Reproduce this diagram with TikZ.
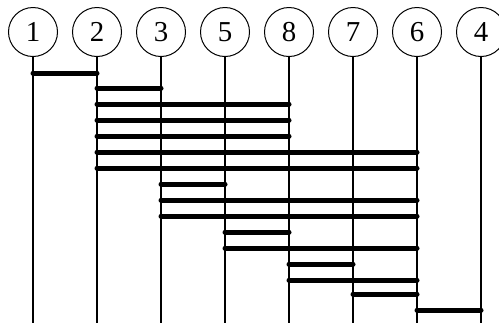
\documentclass[tikz,border=0pt]{standalone}
\usepackage{fontspec}
\setmainfont{Liberation Serif}
\usetikzlibrary{positioning}

\begin{document}
\begin{tikzpicture}[x=1bp,y=-1bp,
  ball/.style={circle,draw,line width=1bp,minimum size=49bp,inner sep=0pt,font=\fontsize{29}{29}\selectfont},
  pole/.style={line width=1.3bp},
  bar/.style={line width=5bp,line cap=round}]
\useasboundingbox (0,0) rectangle (499,325);
\foreach \k/\t in {0/1,1/2,2/3,3/5,4/8,5/7,6/6,7/4}{
  \node[ball] (n\t) at (33+64*\k,32) {\t};
  \coordinate (e\t) at (33+64*\k,323);
  \draw[pole] (n\t) -- (e\t);
}
\foreach \y/\a/\b in {73/1/2,88/2/3,104/2/8,120/2/8,136/2/8,152/2/6,168/2/6,184/3/5,
  200/3/6,216/3/6,232/5/8,248/5/6,264/8/7,280/8/6,294/7/6,310/6/4}
  \draw[bar] (n\a |- 0,\y) -- (n\b |- 0,\y);
\end{tikzpicture}
\end{document}
